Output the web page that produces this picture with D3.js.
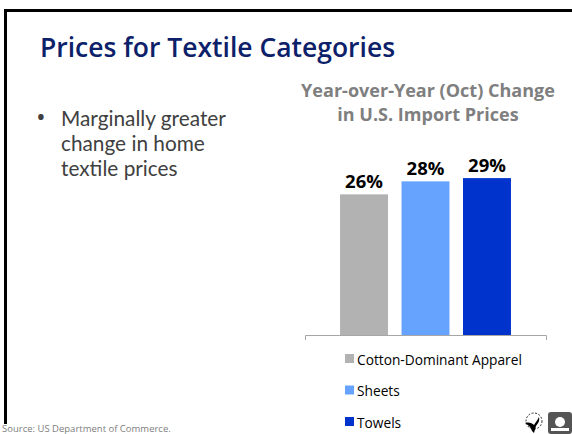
<!DOCTYPE html>
<html lang="en">
<head>
<meta charset="utf-8">
<title>Prices for Textile Categories</title>
<script src="https://cdn.jsdelivr.net/npm/d3@7"></script>
<style>
body { margin:0; background:#fff; }
svg { display:block; font-family:"Open Sans", "Noto Sans", sans-serif; }
</style>
</head>
<body>
<div id="main"></div>
<script>
// data
var categories = ['Cotton-Dominant Apparel', 'Sheets', 'Towels']
var changes = [26, 28.4, 29]      // % change, Oct year-over-year
var colors = ['#b2b2b2', '#66a3ff', '#0033cc']
var bulletLines = ['Marginally greater', 'change in home', 'textile prices']
var chartTitle = ['Year-over-Year (Oct) Change', 'in U.S. Import Prices']

var width = 572, height = 434

var svg = d3.select('#main').append('svg').attr('width', width).attr('height', height)

// slide frame
svg.append('rect').attr('x', 4).attr('y', 9).attr('width', width).attr('height', 3).attr('fill', '#000')
svg.append('rect').attr('x', 4).attr('y', 9).attr('width', 3).attr('height', 415).attr('fill', '#000')

// font size that makes a string as wide as it is on the slide
function fitSize(str, fs, w, attrs) {
  var t = svg.append('text').attr('font-size', fs)
  for (var k in attrs) t.attr(k, attrs[k])
  t.text(str)
  var len = t.node().getComputedTextLength()
  t.remove()
  return len > 0 ? +(fs * w / len).toFixed(2) : fs
}

svg.append('text').attr('x', 40).attr('y', 57)
  .attr('font-size', fitSize('Prices for Textile Categories', 28, 355, {'font-weight': 600}))
  .attr('font-weight', 600).attr('fill', '#0c2169')
  .text('Prices for Textile Categories')

// bullet
svg.append('text').attr('x', 36).attr('y', 126).attr('font-size', 26).attr('fill', '#404040').text('•')
var blSize = Math.min(20.8, fitSize(bulletLines[0], 20, 180, {'font-family': 'Lato'}))
svg.append('text').attr('font-family', 'Lato').attr('font-size', blSize).attr('fill', '#404040')
  .selectAll('tspan').data(bulletLines).enter().append('tspan')
  .attr('x', 61).attr('y', function (d, i) { return 126 + i * 25 })
  .text(function (d) { return d })

// chart
var x = d3.scaleBand().domain(categories).range([305, 546]).paddingInner(0.22).paddingOuter(0.57)
var y = d3.scaleLinear().domain([0, 30]).range([335, 172.7])

svg.append('text').attr('text-anchor', 'middle')
  .attr('font-size', fitSize(chartTitle[0], 15, 254, {'font-weight': 700}))
  .attr('font-weight', 700).attr('fill', '#7f7f7f')
  .selectAll('tspan').data(chartTitle).enter().append('tspan')
  .attr('x', 428).attr('y', function (d, i) { return 97 + i * 24 })
  .text(function (d) { return d })

svg.selectAll('rect.bar').data(changes).enter().append('rect').attr('class', 'bar')
  .attr('x', function (d, i) { return x(categories[i]) })
  .attr('width', x.bandwidth())
  .attr('y', function (d) { return y(d) })
  .attr('height', function (d) { return y(0) - y(d) })
  .attr('fill', function (d, i) { return colors[i] })

svg.selectAll('text.val').data(changes).enter().append('text').attr('class', 'val')
  .attr('x', function (d, i) { return x(categories[i]) + x.bandwidth() / 2 })
  .attr('y', function (d) { return y(d) - 6 })
  .attr('text-anchor', 'middle').attr('font-size', 18.5).attr('font-weight', 700).attr('fill', '#000')
  .text(function (d) { return d3.format('.0f')(d) + '%' })

var axis = svg.append('g').attr('transform', 'translate(0,' + y(0) + ')')
  .call(d3.axisBottom(x).tickValues([]).tickSizeOuter(5))
axis.select('.domain').attr('stroke', '#a6a6a6')

// legend
var legSize = fitSize(categories[0], 14, 165, {})
var leg = svg.selectAll('g.leg').data(categories).enter().append('g').attr('class', 'leg')
  .attr('transform', function (d, i) { return 'translate(345,' + (354 + i * 31.5) + ')' })
leg.append('rect').attr('width', 9).attr('height', 9).attr('fill', function (d, i) { return colors[i] })
leg.append('text').attr('x', 12).attr('y', 10.5).attr('font-size', legSize).attr('fill', '#000')
  .text(function (d) { return d })

svg.append('text').attr('x', 2).attr('y', 432).attr('font-size', 9.5).attr('fill', '#808080')
  .text('Source: US Department of Commerce.')

// logos, bottom right
var logo = svg.append('g').attr('transform', 'translate(523,413)')
logo.append('circle').attr('cx', 11).attr('cy', 8).attr('r', 8).attr('fill', 'none')
  .attr('stroke', '#000').attr('stroke-width', 0.8).attr('stroke-dasharray', '2,1.5')
logo.append('path').attr('d', 'M2,10 C5,12 8,14 9,18 L11,20 L13,13 C15,10 17,8 16,4 C14,8 12,10 11,12 C9,10 6,9 2,10 Z')
  .attr('fill', '#000')
logo.append('rect').attr('x', 25).attr('y', -1).attr('width', 24).attr('height', 22).attr('rx', 3).attr('fill', '#555')
logo.append('circle').attr('cx', 37).attr('cy', 9).attr('r', 5).attr('fill', '#fff')
logo.append('rect').attr('x', 28).attr('y', 15).attr('width', 18).attr('height', 3).attr('fill', '#fff')
</script>
</body>
</html>
